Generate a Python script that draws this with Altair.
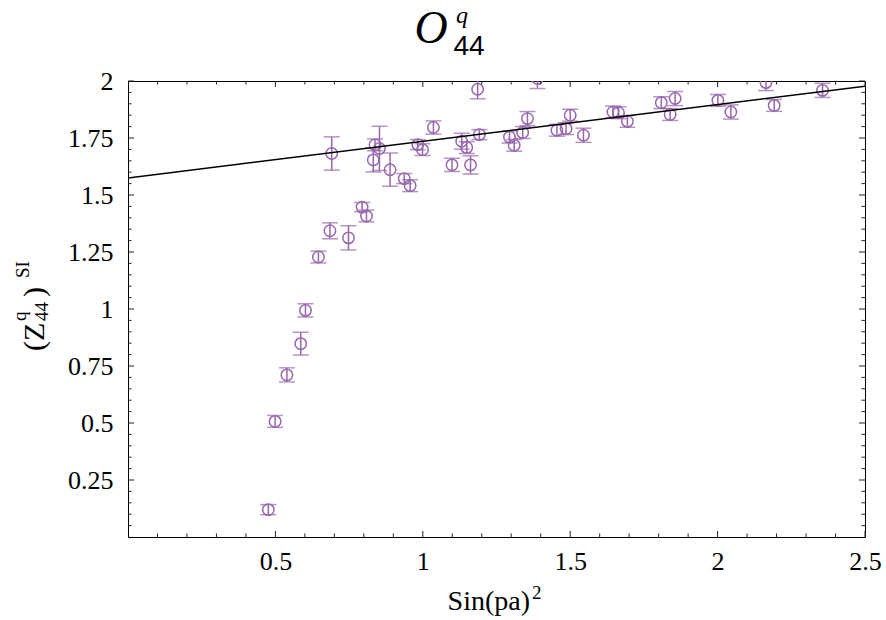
import altair as alt
import pandas as pd

# ---- data ----
sin2 = [0.476, 0.499, 0.539, 0.586, 0.602, 0.646, 0.685, 0.748, 0.794, 0.809,
        0.691, 0.832, 0.838, 0.853, 0.889, 0.937, 0.957, 0.983, 0.999, 1.036,
        1.099, 1.132, 1.149, 1.162, 1.186, 1.192, 1.294, 1.310, 1.339, 1.355,
        1.389, 1.455, 1.486, 1.500, 1.545, 1.645, 1.664, 1.694, 1.809, 1.839,
        1.856, 2.001, 2.045, 2.164, 2.192, 2.356]
zval = [0.120, 0.507, 0.711, 0.848, 0.994, 1.228, 1.343, 1.312, 1.447, 1.408,
        1.682, 1.654, 1.720, 1.704, 1.611, 1.572, 1.541, 1.721, 1.699, 1.796,
        1.632, 1.736, 1.708, 1.632, 1.964, 1.765, 1.754, 1.718, 1.774, 1.835,
        2.011, 1.784, 1.791, 1.850, 1.762, 1.864, 1.861, 1.823, 1.905, 1.853,
        1.923, 1.915, 1.864, 1.993, 1.893, 1.959]
zerr = [0.022, 0.026, 0.031, 0.050, 0.029, 0.026, 0.035, 0.053, 0.020, 0.026,
        0.073, 0.053, 0.026, 0.097, 0.073, 0.022, 0.026, 0.022, 0.026, 0.029,
        0.029, 0.035, 0.026, 0.040, 0.042, 0.022, 0.026, 0.026, 0.026, 0.031,
        0.044, 0.026, 0.026, 0.026, 0.031, 0.026, 0.026, 0.026, 0.026, 0.026,
        0.031, 0.026, 0.031, 0.035, 0.026, 0.031]

fit_x = [0.0, 2.5]
fit_y = [1.575, 1.977]

x_major = [0.5, 1.0, 1.5, 2.0, 2.5]
x_minor = [0.1, 0.2, 0.3, 0.4, 0.6, 0.7, 0.8, 0.9, 1.1, 1.2, 1.3, 1.4,
           1.6, 1.7, 1.8, 1.9, 2.1, 2.2, 2.3, 2.4]
y_major = [0.25, 0.5, 0.75, 1.0, 1.25, 1.5, 1.75, 2.0]
y_minor = [0.05, 0.1, 0.15, 0.2, 0.3, 0.35, 0.4, 0.45, 0.55, 0.6, 0.65, 0.7,
           0.8, 0.85, 0.9, 0.95, 1.05, 1.1, 1.15, 1.2, 1.3, 1.35, 1.4, 1.45,
           1.55, 1.6, 1.65, 1.7, 1.8, 1.85, 1.9, 1.95]

title_main = "O"
title_sup = "q"
title_sub = "44"
ytitle_main = "(Z"
ytitle_sup = "q"
ytitle_sub = "44"
ytitle_close = ")"
ytitle_si = "SI"
xtitle_main = "Sin(pa)"
xtitle_sup = "2"

# ---- layout ----
W, H = 737, 456
PURPLE = "#9766ab"
SERIF = "Liberation Serif"

xs = alt.Scale(domain=[0, 2.5], nice=False, zero=False)
ys = alt.Scale(domain=[0, 2], nice=False, zero=False)

df = pd.DataFrame({"x": sin2, "y": zval, "e": zerr})
df["lo"] = df["y"] - df["e"]
df["hi"] = df["y"] + df["e"]

base = alt.Chart(df)

xaxis = alt.Axis(values=x_major, format=".2~f", ticks=False, tickSize=0, domain=False,
                 grid=False, labelFont=SERIF, labelFontSize=26, labelPadding=11,
                 labelFlush=False, labelOverlap=False,
                 labelColor="black", title="")
yaxis = alt.Axis(values=y_major, format=".2~f", ticks=False, tickSize=0, domain=False,
                 grid=False, labelFont=SERIF, labelFontSize=26, labelPadding=15,
                 labelFlush=False, labelOverlap=False,
                 labelColor="black", title="")


def X(field):
    return alt.X(field, scale=xs, axis=xaxis)


def Y(field):
    return alt.Y(field, scale=ys, axis=yaxis)


bars = base.mark_rule(color=PURPLE, strokeWidth=1.5, clip=True).encode(
    x=X("x:Q"), y=Y("lo:Q"), y2="hi:Q",
)
cap_lo = base.mark_tick(color=PURPLE, orient="horizontal", size=16, thickness=1.5,
                        clip=True).encode(x=X("x:Q"), y=Y("lo:Q"))
cap_hi = base.mark_tick(color=PURPLE, orient="horizontal", size=16, thickness=1.5,
                        clip=True).encode(x=X("x:Q"), y=Y("hi:Q"))
pts = base.mark_point(shape="circle", size=130, filled=False, color=PURPLE,
                      strokeWidth=1.5, opacity=1, clip=True).encode(
    x=X("x:Q"), y=Y("y:Q"))

fit = alt.Chart(pd.DataFrame({"x": fit_x, "y": fit_y})).mark_line(
    color="black", strokeWidth=1.5, clip=True).encode(x=X("x:Q"), y=Y("y:Q"))


# inward frame ticks
def xticks(vals, length):
    d = alt.Chart(pd.DataFrame({"v": vals}))
    bot = d.mark_rule(color="#222", strokeWidth=1).encode(
        x=X("v:Q"), y=alt.value(H), y2=alt.value(H - length))
    top = d.mark_rule(color="#222", strokeWidth=1).encode(
        x=X("v:Q"), y=alt.value(0), y2=alt.value(length))
    return [bot, top]


def yticks(vals, length):
    d = alt.Chart(pd.DataFrame({"v": vals}))
    left = d.mark_rule(color="#222", strokeWidth=1).encode(
        y=Y("v:Q"), x=alt.value(0), x2=alt.value(length))
    right = d.mark_rule(color="#222", strokeWidth=1).encode(
        y=Y("v:Q"), x=alt.value(W), x2=alt.value(W - length))
    return [left, right]


tick_layers = xticks(x_major, 6) + xticks(x_minor, 3.5) + yticks(y_major, 6) + yticks(y_minor, 3.5)


def label(text, x, y, size, font=SERIF, style="normal", angle=0, align="center",
          baseline="alphabetic"):
    return alt.Chart(pd.DataFrame({"t": [text]})).mark_text(
        font=font, fontSize=size, fontStyle=style, angle=angle, align=align,
        baseline=baseline, color="black").encode(
        text="t:N", x=alt.value(x), y=alt.value(y))


title_layers = [
    label(title_main, 303, -38, 46, style="italic"),
    label(title_sup, 334, -58, 24, style="italic"),
    label(title_sub, 341, -26, 28, font="Liberation Sans"),
]
ytitle_layers = [
    label(ytitle_main, -93, 270, 30, angle=270, align="left", baseline="middle"),
    label(ytitle_sup, -108, 240, 19, angle=270, align="left", baseline="middle"),
    label(ytitle_sub, -86, 240, 19, angle=270, align="left", baseline="middle"),
    label(ytitle_close, -93, 216, 30, angle=270, align="left", baseline="middle"),
    label(ytitle_si, -105, 197, 19, angle=270, align="left", baseline="middle"),
]
xtitle_layers = [
    label(xtitle_main, 402, 529, 28, align="right"),
    label(xtitle_sup, 404, 518, 19, align="left"),
]

chart = alt.layer(
    bars, cap_lo, cap_hi, pts, fit, *tick_layers, *title_layers, *ytitle_layers,
    *xtitle_layers
).properties(
    width=W, height=H,
    autosize=alt.AutoSizeParams(type="none"),
    padding={"left": 128, "top": 81, "right": 21, "bottom": 83},
    background="white",
).configure_view(stroke="black", strokeWidth=1)

chart.save("out.html", embed_options={"renderer": "svg", "actions": False})
